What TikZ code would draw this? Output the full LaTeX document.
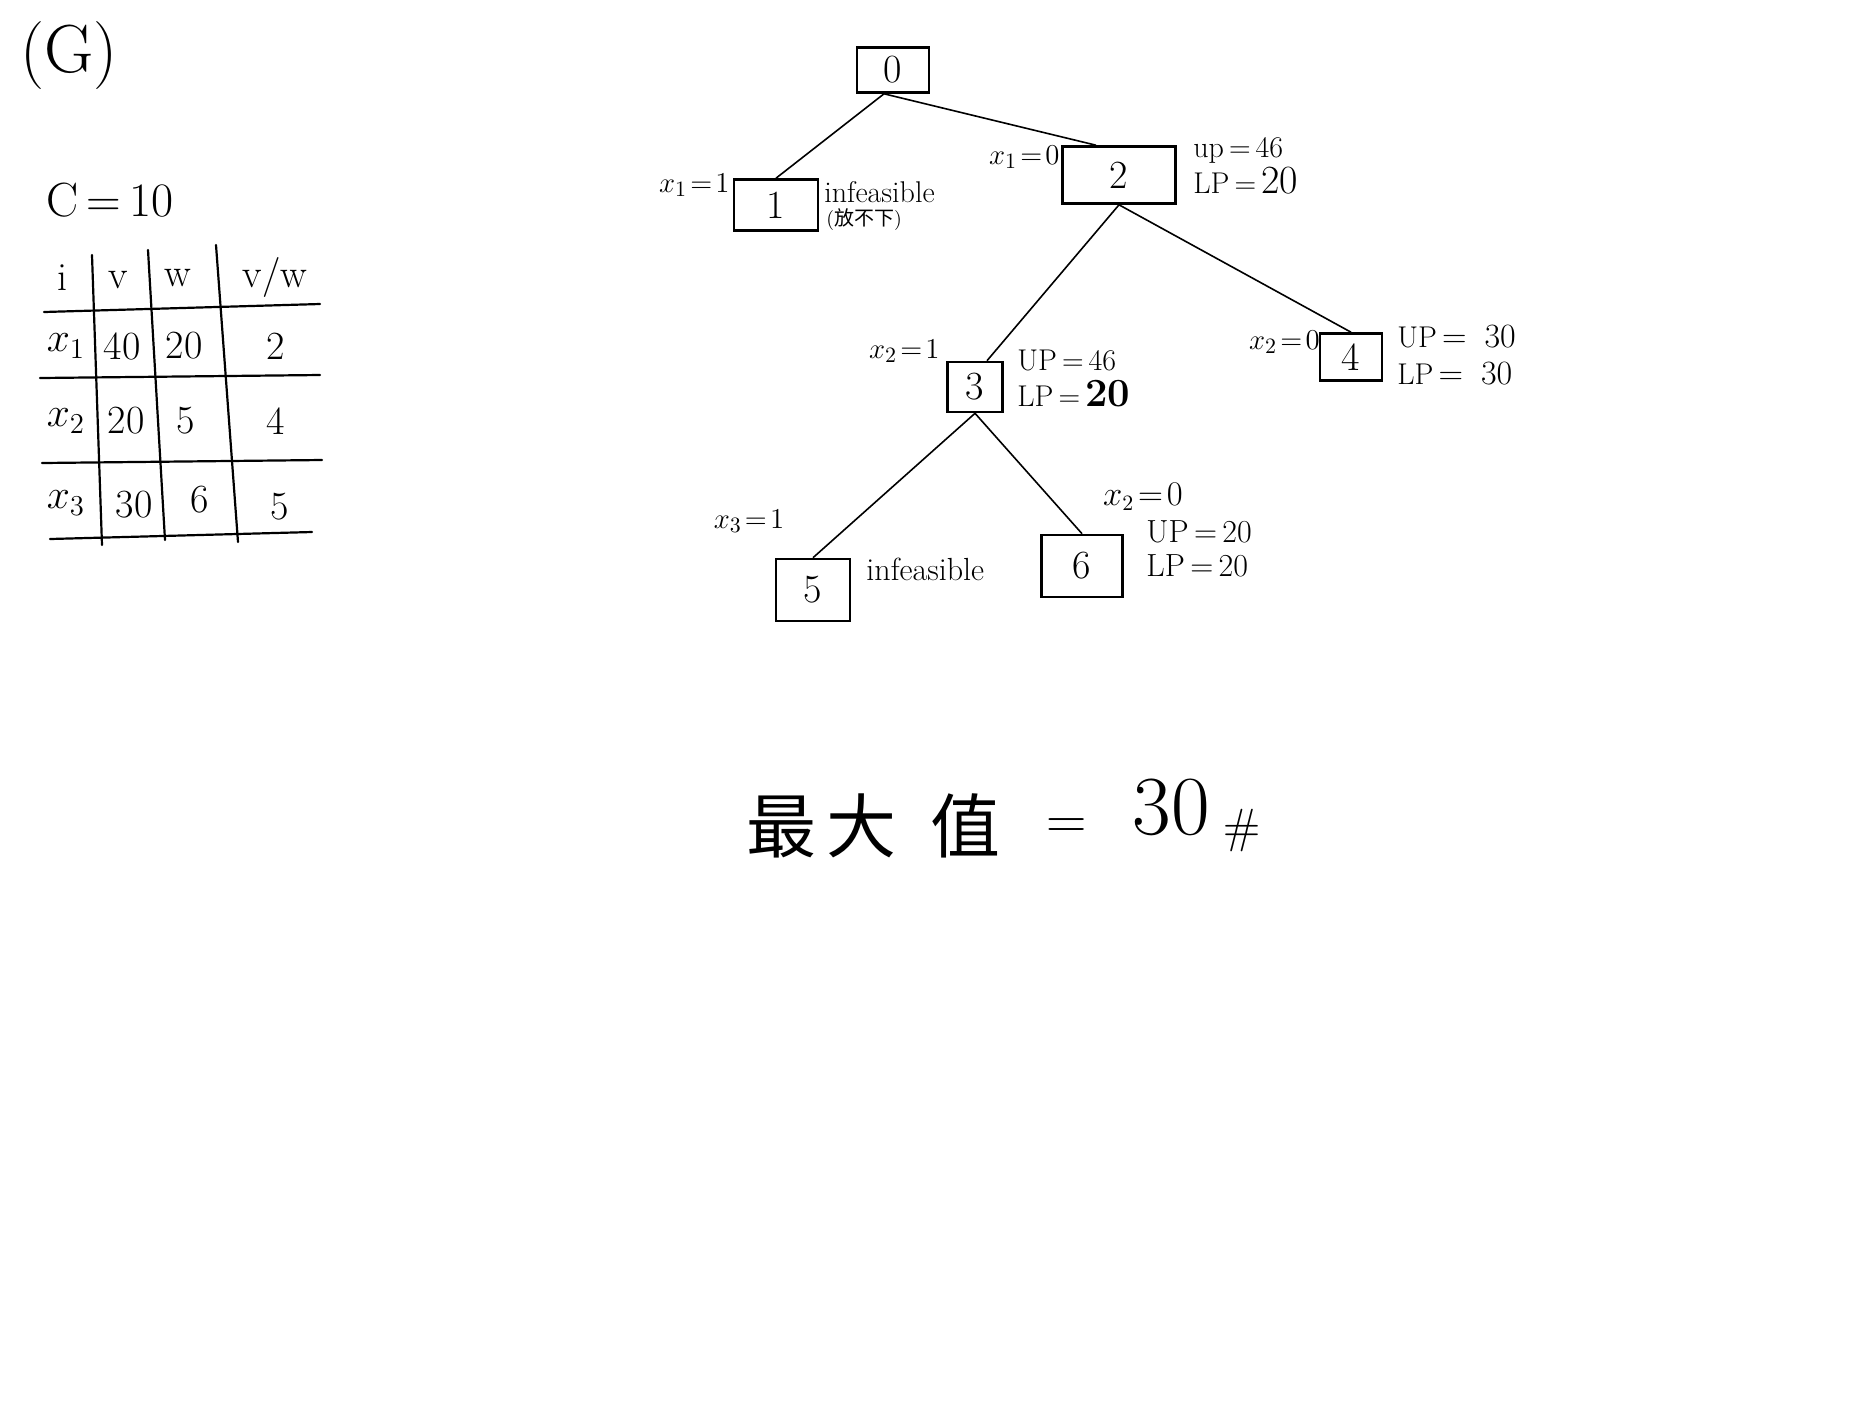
\documentclass[tikz,border=0pt]{standalone}
\usepackage{fontspec}
\usetikzlibrary{calc}
\newfontfamily\cjk{Noto Sans CJK SC}
\begin{document}
\begin{tikzpicture}[x=0.5pt,y=-0.5pt,
  box/.style={draw, line width=1.3pt, inner sep=0pt, font=\fontsize{20}{24}\selectfont},
  lbl/.style={inner sep=0pt, font=\fontsize{15}{18}\selectfont},
  bnd/.style={inner sep=0pt, anchor=west, text height=10pt, text depth=1pt, font=\fontsize{15}{18}\selectfont},
  edge/.style={line width=0.8pt},
  grid/.style={line width=1.1pt, line cap=round},
  cell/.style={inner sep=0pt, font=\fontsize{20}{24}\selectfont}]
\useasboundingbox[fill=white] (0,0) rectangle (1872,1404);

% heading
\node[cell, font=\fontsize{34}{38}\selectfont] (title) at (69,56) {(G)};
\node[cell, font=\fontsize{24}{28}\selectfont] (cap) at (110,200) {C\,=\,10};

% table grid
\draw[grid] (92,255) -- (102,545);
\draw[grid] (148,250) -- (165,540);
\draw[grid] (216,245) -- (238,542);
\draw[grid] (44,312) -- (320,304);
\draw[grid] (40,378) -- (320,375);
\draw[grid] (42,463) -- (322,460);
\draw[grid] (50,539) -- (312,532);

% table text
\node[cell] (hi) at (62,278) {i};
\node[cell] (hv) at (118,280) {v};
\node[cell] (hw) at (178,278) {w};
\node[cell] (hvw) at (275,277) {v/w};
\node[cell] (r1a) at (66,346) {$x_1$};
\node[cell] (r1b) at (122,346) {40};
\node[cell] (r1c) at (184,346) {20};
\node[cell] (r1d) at (276,346) {2};
\node[cell] (r2a) at (66,421) {$x_2$};
\node[cell] (r2b) at (126,421) {20};
\node[cell] (r2c) at (186,421) {5};
\node[cell] (r2d) at (276,421) {4};
\node[cell] (r3a) at (66,503) {$x_3$};
\node[cell] (r3b) at (134,505) {30};
\node[cell] (r3c) at (200,500) {6};
\node[cell] (r3d) at (280,507) {5};

% tree nodes
\node[box, minimum width=36pt, minimum height=22.5pt] (b0) at (893,70) {0};
\node[box, minimum width=42pt, minimum height=25.5pt] (b1) at (776,205) {1};
\node[box, minimum width=56.5pt, minimum height=28.5pt] (b2) at (1119,175) {2};
\node[box, minimum width=27.5pt, minimum height=25pt] (b3) at (975,387) {3};
\node[box, minimum width=31pt, minimum height=23.5pt] (b4) at (1351,357) {4};
\node[box, minimum width=37pt, minimum height=31pt] (b5) at (813,590) {5};
\node[box, minimum width=40.5pt, minimum height=31pt] (b6) at (1082,566) {6};

% connectors
\draw[edge] ($(b0.south)+(-9,0)$) -- (b1.north);
\draw[edge] ($(b0.south)+(-9,0)$) -- ($(b2.north)+(-23,0)$);
\draw[edge] (b2.south) -- ($(b3.north)+(12,0)$);
\draw[edge] (b2.south) -- (b4.north);
\draw[edge] (b3.south) -- (b5.north);
\draw[edge] (b3.south) -- (b6.north);

% branch labels
\node[lbl, anchor=east] (l1) at (730,185) {$x_1\!=\!1$};
\node[lbl, anchor=east] (l2) at (1060,157) {$x_1\!=\!0$};
\node[lbl, anchor=east] (l3) at (940,351) {$x_2\!=\!1$};
\node[lbl, anchor=east] (l4) at (1320,342) {$x_2\!=\!0$};
\node[lbl] (l5) at (749,521) {$x_3\!=\!1$};
\node[lbl, font=\fontsize{16}{19}\selectfont] (l6) at (1143,497) {$x_2\!=\!0$};

% node annotations
\node[bnd] (inf1) at (824,193) {infeasible};
\node[bnd, font=\fontsize{10}{12}\selectfont, text height=7pt] (inf1b) at (826,219) {({\cjk 放不下})};
\node[bnd] (u2) at (1193,148) {up\,=\,46};
\node[bnd] (p2) at (1193,184) {LP\,=\,{\fontsize{20}{24}\selectfont 20}};
\node[bnd] (u3) at (1017,361) {UP\,=\,46};
\node[bnd] (p3) at (1017,397) {LP\,=\,{\fontsize{20}{24}\selectfont\bfseries 20}};
\node[bnd] (u4) at (1397,338) {UP\,{\fontsize{17}{20}\selectfont =}\hspace{9pt}{\fontsize{17}{20}\selectfont 30}};
\node[bnd] (p4) at (1397,375) {LP\,{\fontsize{17}{20}\selectfont =}\hspace{9pt}{\fontsize{17}{20}\selectfont 30}};
\node[bnd, font=\fontsize{16}{19}\selectfont] (inf5) at (866,571) {infeasible};
\node[bnd, font=\fontsize{16}{19}\selectfont] (u6) at (1146,533) {UP\,=\,20};
\node[bnd, font=\fontsize{16}{19}\selectfont] (p6) at (1146,567) {LP\,=\,20};

% result
\node[inner sep=0pt, anchor=base west] (res) at (746,852)
  {{\cjk\fontsize{35}{40}\selectfont 最\hspace{5pt}大\hspace{17pt}值}\hspace{23pt}\raisebox{7pt}{\fontsize{28}{32}\selectfont =}\hspace{23pt}\raisebox{9pt}{\fontsize{42}{48}\selectfont 30}\hspace{7pt}\raisebox{5pt}{\fontsize{24}{28}\selectfont\#}};
\end{tikzpicture}
\end{document}
